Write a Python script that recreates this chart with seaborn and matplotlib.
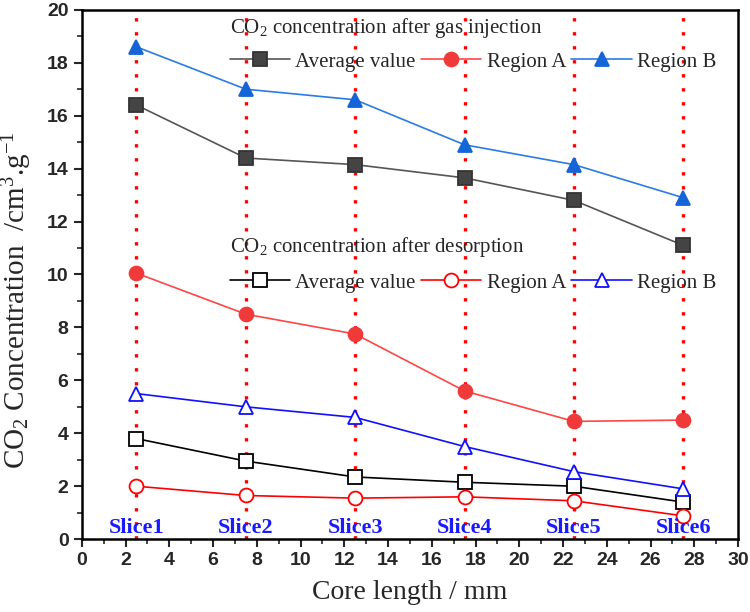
import numpy as np
import pandas as pd
import matplotlib
matplotlib.use('Agg')
import matplotlib.pyplot as plt
import seaborn as sns
from matplotlib.lines import Line2D
from matplotlib.ticker import MultipleLocator

# slice positions along the core (mm)
core_length = [2.5, 7.5, 12.5, 17.5, 22.5, 27.5]
slice_names = ['Slice1', 'Slice2', 'Slice3', 'Slice4', 'Slice5', 'Slice6']

# CO2 concentration after gas injection
inj_avg = [16.4, 14.4, 14.15, 13.65, 12.8, 11.1]
inj_a = [10.05, 8.5, 7.75, 5.6, 4.45, 4.5]
inj_b = [18.6, 17.0, 16.6, 14.9, 14.15, 12.9]

# CO2 concentration after desorption
des_avg = [3.8, 2.95, 2.35, 2.15, 2.0, 1.4]
des_a = [2.0, 1.65, 1.55, 1.6, 1.45, 0.88]
des_b = [5.5, 5.0, 4.6, 3.5, 2.55, 1.9]

sns.set_style('ticks')
plt.rcParams['font.family'] = ['Liberation Serif', 'DejaVu Serif']
plt.rcParams['mathtext.fontset'] = 'custom'
plt.rcParams['mathtext.rm'] = 'Liberation Serif'
plt.rcParams['mathtext.bf'] = 'Liberation Serif:bold'
plt.rcParams['mathtext.default'] = 'regular'

fig = plt.figure(figsize=(7.5, 6.12), dpi=100)
ax = fig.add_axes([0.109, 0.119, 0.875, 0.865])

# slice markers
for x in core_length:
    ax.axvline(x, color='red', lw=2.4, ls=(0, (1.0, 3.2)), zorder=1)

series = [
    (inj_avg, dict(color='#555555', marker='s', mfc='#444444', mec='#333333')),
    (inj_a, dict(color='#ff4545', marker='o', mfc='#f03a3a', mec='#f03a3a')),
    (inj_b, dict(color='#2a7be6', marker='^', mfc='#1565d8', mec='#1565d8')),
    (des_avg, dict(color='black', marker='s', mfc='white', mec='black')),
    (des_a, dict(color='red', marker='o', mfc='white', mec='red')),
    (des_b, dict(color='#1010ff', marker='^', mfc='white', mec='#1010ff')),
]
for vals, st in series:
    df = pd.DataFrame({'x': core_length, 'y': vals})
    sns.lineplot(data=df, x='x', y='y', ax=ax, lw=1.2, markersize=10,
                 markeredgewidth=1.3, zorder=3, **st)

for x, name in zip(core_length, slice_names):
    ax.text(x, 0.43, name, color='#1a1aff', fontsize=16, fontweight='bold',
            ha='center', va='center', zorder=4)

ax.set_xlim(0, 30)
ax.set_ylim(0, 20)
ax.xaxis.set_major_locator(MultipleLocator(2))
ax.xaxis.set_minor_locator(MultipleLocator(1))
ax.yaxis.set_major_locator(MultipleLocator(2))
ax.yaxis.set_minor_locator(MultipleLocator(1))
ax.tick_params(which='major', direction='out', length=6, width=1.5)
ax.tick_params(which='minor', direction='out', length=3.5, width=1.2)
for lab in ax.get_xticklabels() + ax.get_yticklabels():
    lab.set_family(['Liberation Sans Narrow', 'Liberation Sans'])
    lab.set_fontweight('bold')
    lab.set_fontsize(14)
for sp in ax.spines.values():
    sp.set_visible(True)
    sp.set_linewidth(1.8)
    sp.set_color('black')

ax.set_xlabel('Core length / mm', fontsize=20, labelpad=8)
ax.set_ylabel(r'CO$_2$ Concentration  /cm$^3$.g$^{-1}$', fontsize=21)
ax.yaxis.set_label_coords(-0.073, 0.452)

def handles(group):
    out = []
    for vals, st in group:
        out.append(Line2D([], [], lw=1.2, markersize=10, markeredgewidth=1.3, **st))
    return out

labels = ['Average value', 'Region A', 'Region B']
leg_kw = dict(ncol=3, frameon=False, loc='center left', fontsize=15,
              handlelength=2.9, columnspacing=0.25, handletextpad=0.25,
              borderpad=0, borderaxespad=0)

ax.text(0.2256, 0.966, r'CO$_2$ concentration after gas injection',
        transform=ax.transAxes, fontsize=15, ha='left', va='center')
leg1 = ax.legend(handles(series[:3]), labels, bbox_to_anchor=(0.2256, 0.9017),
                 **leg_kw)
ax.add_artist(leg1)

ax.text(0.2256, 0.552, r'CO$_2$ concentration after desorption',
        transform=ax.transAxes, fontsize=15, ha='left', va='center')
ax.legend(handles(series[3:]), labels, bbox_to_anchor=(0.2256, 0.484), **leg_kw)

fig.savefig('out.png', dpi=100)
